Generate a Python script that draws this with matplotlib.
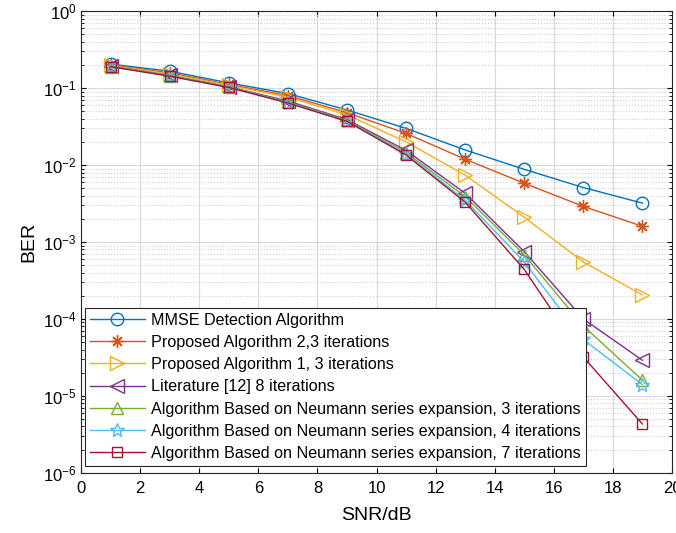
import matplotlib
matplotlib.use("Agg")
import matplotlib.pyplot as plt
from matplotlib.ticker import LogLocator, NullFormatter, MultipleLocator

plt.rcParams['font.family'] = ['Liberation Sans', 'DejaVu Sans']
plt.rcParams['mathtext.fontset'] = 'custom'
plt.rcParams['mathtext.rm'] = 'Liberation Sans'

snr = [1, 3, 5, 7, 9, 11, 13, 15, 17, 19]

ber_mmse = [0.205, 0.166, 0.117, 0.085, 0.052, 0.030, 0.0157, 0.0088, 0.0051, 0.0032]
ber_prop2 = [0.200, 0.158, 0.112, 0.080, 0.048, 0.0258, 0.0119, 0.0058, 0.0029, 0.0016]
ber_prop1 = [0.197, 0.153, 0.109, 0.076, 0.045, 0.020, 0.0074, 0.0021, 0.00055, 0.000205]
ber_lit12 = [0.192, 0.146, 0.104, 0.068, 0.039, 0.0155, 0.0043, 0.00075, 0.000100, 0.000029]
ber_neu3 = [0.191, 0.145, 0.103, 0.066, 0.038, 0.0145, 0.0039, 0.00068, 0.000081, 0.000016]
ber_neu4 = [0.190, 0.144, 0.102, 0.065, 0.037, 0.0140, 0.0035, 0.00055, 0.000054, 0.000014]
ber_neu7 = [0.190, 0.143, 0.102, 0.064, 0.037, 0.0135, 0.0033, 0.00044, 0.000032, 0.0000043]

labels = [
    "MMSE Detection Algorithm",
    "Proposed Algorithm 2,3 iterations",
    "Proposed Algorithm 1, 3 iterations",
    "Literature [12] 8 iterations",
    "Algorithm Based on Neumann series expansion, 3 iterations",
    "Algorithm Based on Neumann series expansion, 4 iterations",
    "Algorithm Based on Neumann series expansion, 7 iterations",
]
series = [ber_mmse, ber_prop2, ber_prop1, ber_lit12, ber_neu3, ber_neu4, ber_neu7]
colors = ['#0072BD', '#D95319', '#EDB120', '#7E2F8E', '#77AC30', '#4DBEEE', '#A2142F']
# MATLAB-like markers: o, asterisk, >, <, ^, pentagram, square
markers = ['o', (8, 2, 0), '>', '<', '^', '*', 's']
msizes = [9, 9, 10, 10, 9, 10, 7]

fig = plt.figure(figsize=(6.76, 5.33), dpi=100)
ax = fig.add_axes([0.12, 0.113, 0.874, 0.866])

for y, lab, c, m, ms in zip(series, labels, colors, markers, msizes):
    ax.semilogy(snr, y, color=c, marker=m, markersize=ms, markerfacecolor='none',
                markeredgecolor=c, markeredgewidth=1.0, linewidth=1.0, label=lab)

ax.set_xlim(0, 20)
ax.set_ylim(1e-6, 1)
ax.xaxis.set_major_locator(MultipleLocator(2))
ax.yaxis.set_major_locator(LogLocator(base=10, numticks=10))
ax.yaxis.set_minor_locator(LogLocator(base=10, subs=range(2, 10), numticks=10))
ax.yaxis.set_minor_formatter(NullFormatter())

ax.grid(which='major', color='#d9d9d9', linestyle='-', linewidth=0.8)
ax.grid(which='minor', axis='y', color='#cfcfcf', linestyle=':', linewidth=0.8)
ax.set_axisbelow(True)

ax.tick_params(which='both', direction='in', top=True, right=True, labelsize=12)
ax.tick_params(axis='x', pad=6)
for s in ax.spines.values():
    s.set_color('#262626')
    s.set_linewidth(0.8)

ax.set_xlabel("SNR/dB", fontsize=14, labelpad=8)
ax.set_ylabel("BER", fontsize=14, labelpad=4)

leg = ax.legend(loc='lower left', bbox_to_anchor=(0.007, 0.015), borderaxespad=0,
                fontsize=11.6, handlelength=3.4, labelspacing=0.45, fancybox=False,
                framealpha=1, edgecolor='#262626', borderpad=0.3, handletextpad=0.4)
leg.get_frame().set_linewidth(0.8)
leg.set_zorder(5)

fig.savefig("out.png", dpi=100)
